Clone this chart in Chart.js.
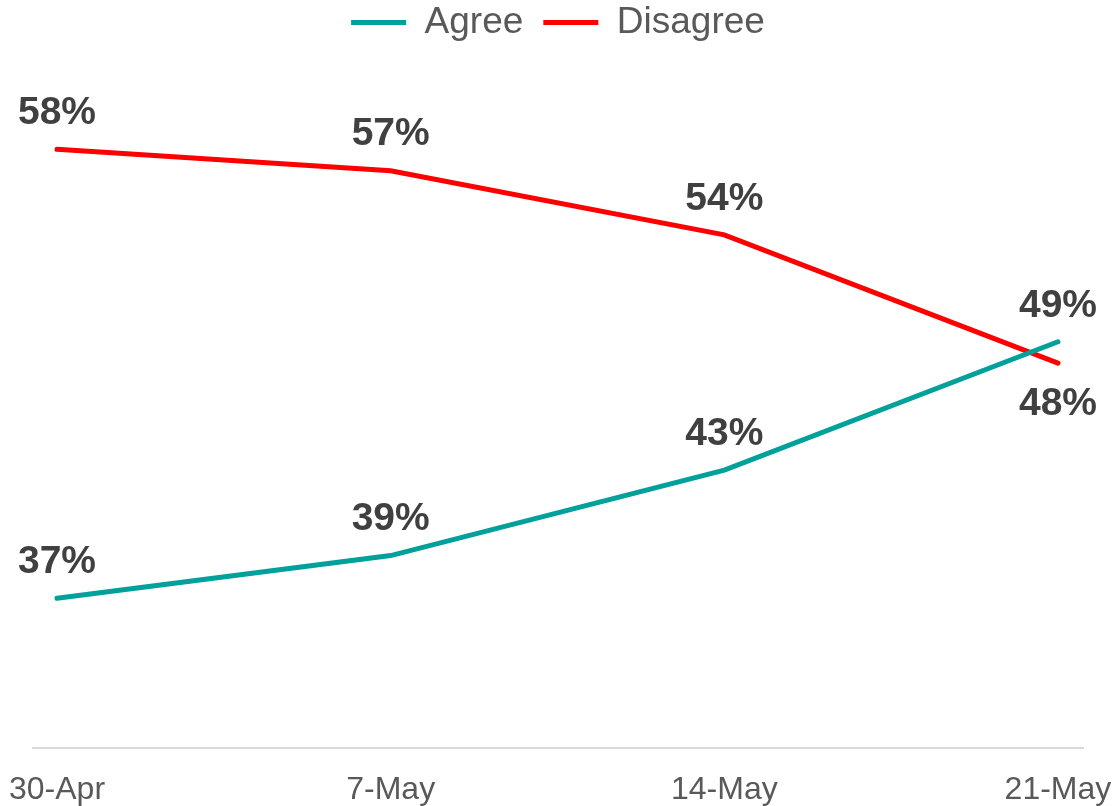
<!DOCTYPE html>
<html>
<head>
<meta charset="utf-8">
<script src="https://cdn.jsdelivr.net/npm/chart.js@4/dist/chart.umd.min.js"></script>
<style>
  html, body { margin: 0; padding: 0; background: #fff; }
  #wrap { width: 1112px; height: 806px; }
</style>
</head>
<body>
<div id="wrap"><canvas id="trendChart"></canvas></div>
<script>
const dates = ['30-Apr', '7-May', '14-May', '21-May'];
const agree = [37, 39, 43, 49];
const disagree = [58, 57, 54, 48];

const FONT = '"Liberation Sans", Arial, sans-serif';

// percent labels drawn next to each point
const pointLabels = {
  id: 'pointLabels',
  afterDatasetsDraw(chart) {
    const ctx = chart.ctx;
    ctx.save();
    ctx.font = 'bold 39px ' + FONT;
    ctx.fillStyle = '#404040';
    ctx.textAlign = 'center';
    ctx.textBaseline = 'middle';
    chart.data.datasets.forEach(function(ds, i) {
      const meta = chart.getDatasetMeta(i);
      meta.data.forEach(function(pt, j) {
        const below = ds.labelPos && ds.labelPos[j] === 'below';
        const y = below ? pt.y + 41 : pt.y - 36;
        ctx.fillText(ds.data[j].y + '%', pt.x, y);
      });
    });
    ctx.restore();
  }
};

new Chart(document.getElementById('trendChart'), {
  type: 'line',
  data: {
    datasets: [{
        label: 'Agree',
        data: agree.map((v, i) => ({x: i, y: v})),
        borderColor: '#00A09B',
        backgroundColor: '#00A09B',
        borderWidth: 5,
        pointRadius: 0,
        borderCapStyle: 'round',
        fill: false,
        labelPos: ['above', 'above', 'above', 'above']
      }, {
        label: 'Disagree',
        data: disagree.map((v, i) => ({x: i, y: v})),
        borderColor: '#FF0000',
        backgroundColor: '#FF0000',
        borderWidth: 5,
        pointRadius: 0,
        borderCapStyle: 'round',
        fill: false,
        labelPos: ['above', 'above', 'above', 'below']
      }
    ]
  },
  options: {
    responsive: true,
    maintainAspectRatio: false,
    animation: false,
    layout: {
      padding: {left: 33, right: 29, top: -16, bottom: 0}
    },
    plugins: {
      legend: {
        position: 'top',
        labels: {
          usePointStyle: true,
          pointStyle: 'line',
          pointStyleWidth: 55,
          boxHeight: 5,
          color: '#595959',
          padding: 20,
          font: {family: FONT, size: 37}
        }
      },
      tooltip: {enabled: false}
    },
    scales: {
      x: {
        type: 'linear',
        min: -0.072,
        max: 3.075,
        afterBuildTicks: function(scale) {
          scale.ticks = dates.map((d, i) => ({value: i}));
        },
        afterFit: function(scale) {
          scale.paddingLeft = 0;
          scale.paddingRight = 0;
          scale.height = 58;
        },
        ticks: {
          color: '#595959',
          padding: 15,
          maxRotation: 0,
          autoSkip: false,
          font: {family: FONT, size: 32},
          callback: function(value) { return dates[value]; }
        },
        grid: {display: false},
        border: {display: true, color: '#D9D9D9', width: 2}
      },
      y: {
        display: false,
        min: 30,
        max: 62.6
      }
    }
  },
  plugins: [pointLabels]
});
</script>
</body>
</html>
